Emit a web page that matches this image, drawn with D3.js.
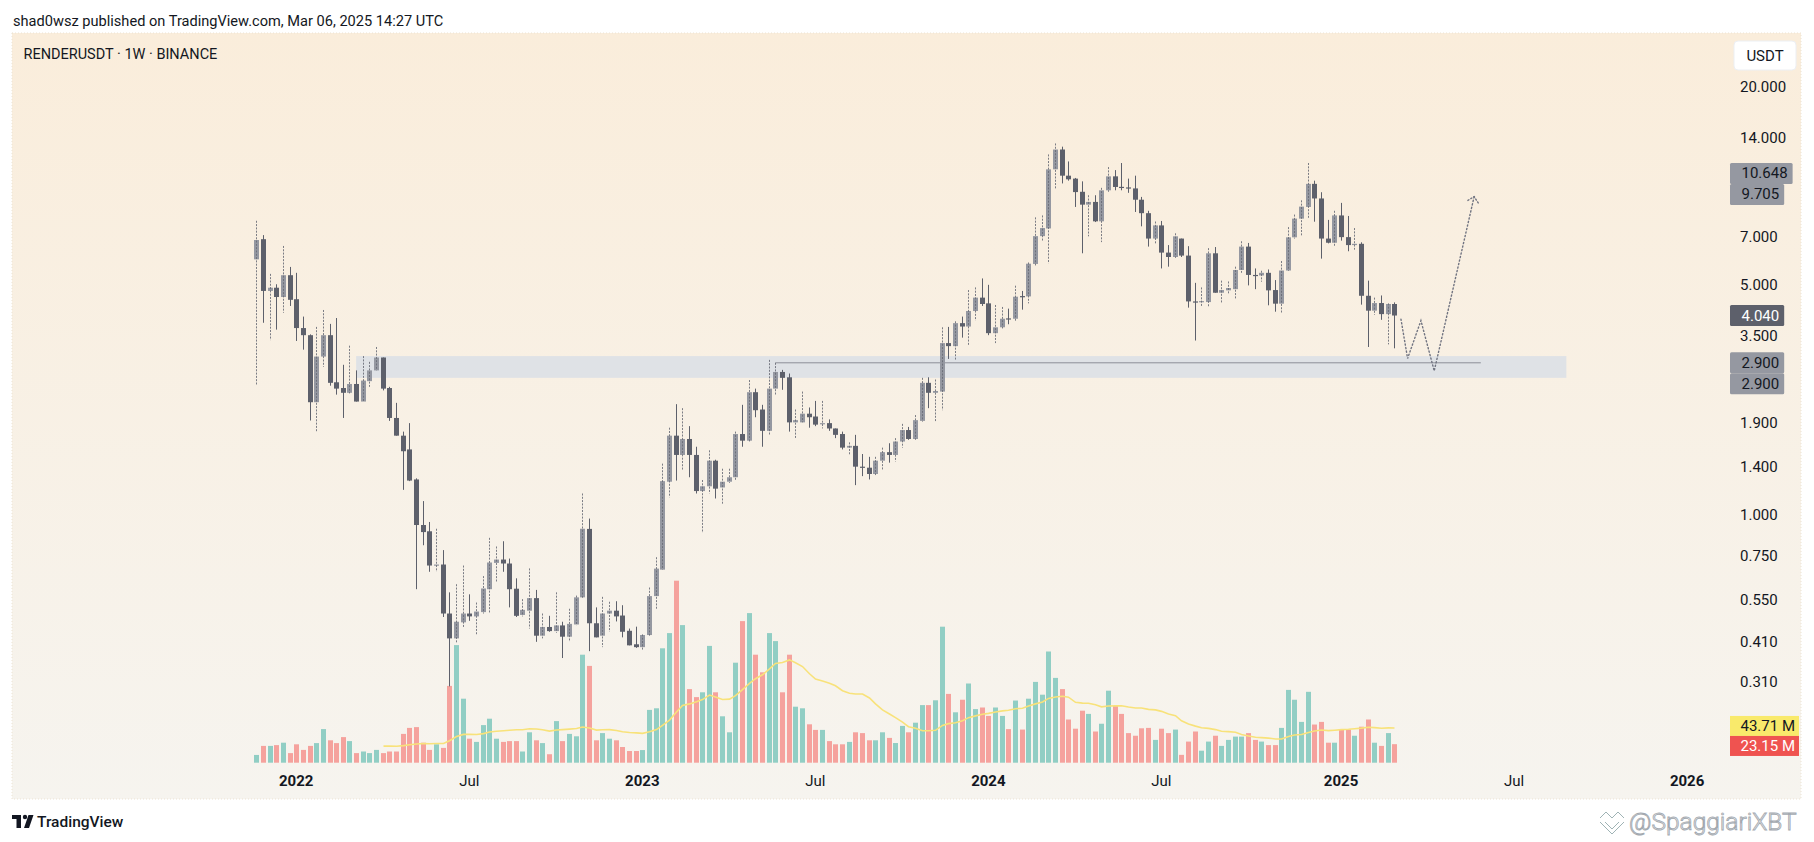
<!DOCTYPE html>
<html><head><meta charset="utf-8">
<script src="https://cdn.jsdelivr.net/npm/d3@7"></script>
<style>
html,body{margin:0;padding:0;background:#fff;}
svg{display:block;font-family:Roboto,"Liberation Sans",sans-serif;}
</style></head><body>
<svg id="c" width="1814" height="842"></svg>
<script>
// ---------------- DATA ----------------
const firstWeek = "2021-11-22";   // weekly bars, RENDERUSDT 1W
const opens = [5.99,6.90,4.80,4.91,4.60,5.36,4.53,3.70,3.52,2.20,3.03,3.52,2.53,2.43,2.35,2.50,2.21,2.55,2.75,3.01,2.43,1.97,1.74,1.58,1.28,0.93,0.89,0.70,0.705,0.50,0.42,0.47,0.50,0.49,0.505,0.593,0.713,0.73,0.71,0.595,0.495,0.51,0.557,0.428,0.455,0.442,0.46,0.425,0.463,0.56,0.905,0.467,
0.428,0.50,0.51,0.493,0.443,0.403,0.395,0.43,0.565,0.68,1.26,1.74,1.52,1.70,1.52,1.18,1.22,1.46,1.21,1.26,1.30,1.76,1.68,2.36,2.09,1.80,2.42,2.72,2.62,1.91,1.91,2.03,1.99,1.89,1.90,1.83,1.76,1.60,1.62,1.40,1.39,1.33,1.46,1.55,1.52,1.67,1.81,1.70,1.93,2.52,2.35,2.37,3.33,3.26,
3.83,3.74,4.17,4.58,4.40,3.57,3.72,3.96,3.95,4.63,4.62,5.80,7.05,7.44,11.26,12.94,10.77,10.55,9.62,8.79,8.96,7.82,9.72,10.72,9.96,9.92,9.85,9.1,8.28,6.93,7.60,6.28,6.09,6.93,6.15,4.46,4.44,4.44,6.25,4.74,4.82,4.86,5.56,6.55,5.37,5.35,5.45,4.83,4.39,5.54,6.99,7.97,8.65,10.17,9.18,6.93,6.73,8.15,7.00,6.62,6.68,4.64,4.18,4.41,4.08,4.38];
const highs = [7.85,7.10,5.41,5.03,6.58,5.68,5.45,4.01,3.54,3.73,4.20,3.81,3.97,2.86,3.27,2.75,3.04,2.92,3.24,3.01,2.45,2.19,1.79,1.90,1.29,1.10,0.95,0.906,0.78,0.58,0.614,0.70,0.572,0.54,0.65,0.85,0.80,0.83,0.735,0.64,0.553,0.686,0.59,0.50,0.492,0.58,0.472,0.517,0.567,1.16,0.973,0.522,
0.562,0.543,0.545,0.53,0.45,0.456,0.432,0.60,0.742,1.43,1.84,2.17,2.11,1.86,1.61,1.275,1.57,1.47,1.38,1.38,1.79,2.16,2.57,2.42,2.16,2.96,2.90,2.76,2.69,2.09,2.37,2.12,2.22,2.22,1.95,1.83,1.79,1.66,1.75,1.53,1.50,1.50,1.60,1.65,1.71,1.89,1.85,2.01,2.61,2.62,2.58,3.72,3.73,3.88,
4.01,4.83,4.92,5.24,5.01,4.35,4.29,4.24,4.98,4.80,5.86,8.04,8.15,12.5,13.5,13.2,11.9,10.6,10.35,9.39,9.39,9.89,11.44,11.2,11.77,10.55,10.77,9.28,8.42,7.81,7.84,6.62,7.19,6.93,6.57,5.08,4.92,6.48,6.53,5.16,5.13,5.69,6.80,6.72,5.62,5.53,5.58,5.18,5.92,7.51,8.20,9.06,11.77,10.4,9.59,7.90,8.42,8.90,8.12,7.46,6.75,5.16,4.58,4.65,4.40,4.43];
const lows = [2.47,3.84,3.40,3.66,4.12,4.32,3.38,3.18,1.935,1.79,2.82,2.47,2.32,1.97,2.34,2.21,2.20,2.45,2.75,2.39,1.93,1.74,1.19,1.265,0.593,0.807,0.67,0.67,0.488,0.30,0.405,0.453,0.475,0.43,0.50,0.50,0.625,0.67,0.522,0.488,0.49,0.45,0.41,0.42,0.44,0.437,0.366,0.41,0.46,0.557,0.384,0.423,
0.395,0.44,0.473,0.423,0.40,0.393,0.388,0.428,0.517,0.68,1.13,1.27,1.37,1.30,1.16,0.88,1.16,1.12,1.08,1.25,1.275,1.61,1.67,1.98,1.61,1.75,2.32,2.40,1.79,1.70,1.91,1.84,1.86,1.83,1.80,1.71,1.58,1.52,1.23,1.31,1.28,1.32,1.37,1.44,1.45,1.60,1.69,1.69,1.92,2.11,1.91,2.08,2.98,2.95,
3.46,3.26,3.90,4.32,3.52,3.33,3.69,3.80,3.88,4.21,4.40,5.74,6.80,5.82,9.82,10.2,10.4,8.65,6.25,7.04,7.78,6.76,9.62,9.72,9.72,9.55,8.35,7.55,6.55,6.65,5.62,5.69,6.05,6.09,4.27,3.39,4.29,4.29,4.74,4.40,4.72,4.54,5.45,4.99,4.86,5.12,4.34,4.15,4.10,5.53,6.93,7.04,7.97,7.80,6.02,6.70,6.55,6.83,6.34,6.41,4.36,3.24,4.06,3.92,3.30,3.21];
const closes = [6.86,4.80,4.91,4.60,5.36,4.51,3.70,3.52,2.20,3.03,3.52,2.52,2.42,2.35,2.50,2.21,2.56,2.75,3.01,2.42,1.97,1.74,1.56,1.27,0.93,0.885,0.70,0.705,0.50,0.42,0.472,0.50,0.49,0.507,0.596,0.715,0.73,0.71,0.593,0.492,0.513,0.557,0.428,0.455,0.442,0.46,0.425,0.465,0.56,0.906,0.467,0.423,
0.50,0.51,0.49,0.44,0.40,0.395,0.43,0.565,0.685,1.265,1.74,1.52,1.70,1.52,1.18,1.22,1.46,1.20,1.26,1.30,1.76,1.68,2.36,2.08,1.80,2.42,2.72,2.61,1.91,1.94,2.03,1.98,1.88,1.90,1.83,1.75,1.60,1.62,1.40,1.39,1.33,1.46,1.55,1.52,1.67,1.81,1.70,1.94,2.52,2.35,2.38,3.33,3.26,3.83,
3.74,4.17,4.58,4.38,3.57,3.72,3.95,3.95,4.61,4.61,5.81,7.05,7.46,11.26,12.94,10.77,10.5,9.6,8.79,8.96,7.82,9.72,10.72,9.95,9.94,9.88,9.1,8.28,6.93,7.60,6.28,6.09,7.04,6.15,4.46,4.44,4.47,6.25,4.74,4.83,4.90,5.56,6.55,5.37,5.35,5.45,4.82,4.39,5.54,6.99,7.97,8.67,10.17,9.18,6.93,6.73,8.15,7.00,6.62,6.68,4.64,4.18,4.41,4.08,4.38,4.04];
// volume in millions
const volumes = [9.7,21,21,22,25,12,23,16,21,24.5,42,28,24.5,32,27,12,14,12,16,12,14,14,36,43.5,44.5,25,16,23,18.5,96,147,80,30,26,47,55,30,26,27,27,14,38,28,24.5,10.6,52,27,36,33,135,121,28,
37,30,28,19.6,14.6,14.6,15.8,66,68,143,162,227.5,172,92,82,88,146,88,58,38,125,177,187,135,113,162,152,88,135,70,68,48,41,41,27,23,23,26,38,37,28,28,38,31,24.6,46,38,50,72,72,78,170,86,63,
78.7,99,67,69,58.5,69,58.5,42,77.7,41.4,80,101,85,139,106,92,54,42.5,65,61,39,48.7,90,71,61,37,33.7,43,43.5,28.5,42.5,37,41.4,9.8,26.4,39,15,26.4,33.7,21,28.5,32.6,32.6,37,28.5,26.4,22,22,43.5,91,78.7,51,88.6,47.7,51,25,25,41.4,41.4,33.7,45,54,25,21,37,23.15];
const volMaLength = 20;

const priceTicks = [20,14,7,5,3.5,1.9,1.4,1.0,0.75,0.55,0.41,0.31];
const timeTickDates = ["2022-01-03","2022-07-04","2023-01-02","2023-07-03","2024-01-01","2024-07-01","2025-01-06","2025-07-07","2026-01-05"];
const timeTickLabels = ["2022","Jul","2023","Jul","2024","Jul","2025","Jul","2026"];
const timeTickBold = [true,false,true,false,true,false,true,false,true];

// support zone and level
const zoneDates = ["2022-03-07","2025-08-31"];
const zonePrices = [3.04, 2.61];
const levelDates = ["2023-05-22","2025-06-02"];
const levelPrice = 2.9;
// projected path (dotted)
const pathDates = ["2025-03-10","2025-03-17","2025-03-31","2025-04-14","2025-05-26"];
const pathPrices = [3.94, 2.99, 3.90, 2.74, 9.30];

// price axis tags
const priceTagValues = [10.648, 9.705, 4.040, 2.900, 2.900];
const priceTagDark = [false, false, true, false, false];
const volTagValues = [43.71, 23.15];

// ---------------- CHART ----------------
const svg = d3.select("#c");
const W = 1814, H = 842;
const panel = {x0: 12, x1: 1801, y0: 33, y1: 799};
const axisX = 1740;

const defs = svg.append("defs");
const grad = defs.append("linearGradient").attr("id","bg").attr("x1",0).attr("y1",0).attr("x2",0).attr("y2",1);
grad.append("stop").attr("offset","0%").attr("stop-color","#faeddb");
grad.append("stop").attr("offset","100%").attr("stop-color","#f6f4ef");

svg.append("rect").attr("width",W).attr("height",H).attr("fill","#ffffff");
svg.append("rect").attr("x",panel.x0).attr("y",panel.y0).attr("width",panel.x1-panel.x0).attr("height",panel.y1-panel.y0)
  .attr("fill","url(#bg)").attr("stroke","#ece3d3").attr("stroke-dasharray","1,2").attr("stroke-width",1);

const t0 = new Date(firstWeek);
const data = opens.map((o,i)=>({date: d3.utcDay.offset(t0, 7*i), o, h: highs[i], l: lows[i], c: closes[i], v: volumes[i]}));

const x = d3.scaleUtc().domain([data[0].date, data[data.length-1].date]).range([256.3, 1394.3]);
const y = d3.scaleLog().domain([0.31, 20]).range([681.7, 87.4]);
const yv = d3.scaleLinear().domain([0, 250]).range([762.7, 562.7]);

const UP = "#9598a1", DOWN = "#5d606b";
const VUP = "#91cec4", VDOWN = "#f5a29d";

// zone
svg.append("rect")
  .attr("x", x(new Date(zoneDates[0]))).attr("width", x(new Date(zoneDates[1])) - x(new Date(zoneDates[0])))
  .attr("y", y(zonePrices[0])).attr("height", y(zonePrices[1]) - y(zonePrices[0]))
  .attr("fill", "#dfe2e6");

// volume bars
const gVol = svg.append("g");
gVol.selectAll("rect").data(data).join("rect")
  .attr("x", d => Math.round(x(d.date)) - 2)
  .attr("width", 5)
  .attr("y", d => yv(d.v))
  .attr("height", d => yv(0) - yv(d.v))
  .attr("fill", d => d.c >= d.o ? VUP : VDOWN);

// volume MA
const ma = [];
for (let i = volMaLength - 1; i < data.length; i++) {
  ma.push({date: data[i].date, v: d3.mean(volumes.slice(i - volMaLength + 1, i + 1))});
}
svg.append("path").datum(ma)
  .attr("d", d3.line().x(d => Math.round(x(d.date)) + 0.5).y(d => yv(d.v)))
  .attr("fill","none").attr("stroke","#f8e27a").attr("stroke-width",1.6);

// level line
svg.append("line")
  .attr("x1", x(new Date(levelDates[0]))).attr("x2", x(new Date(levelDates[1])))
  .attr("y1", y(levelPrice)).attr("y2", y(levelPrice))
  .attr("stroke","#8c8f97").attr("stroke-width",1);

// candles
const gC = svg.append("g");
const cg = gC.selectAll("g").data(data).join("g");
cg.each(function(d){
  const g = d3.select(this);
  const cx = Math.round(x(d.date)) + 0.5;
  const isUp = d.c >= d.o;
  const top = y(Math.max(d.o, d.c)), bot = y(Math.min(d.o, d.c));
  if (!isUp) {
    g.append("line").attr("x1",cx).attr("x2",cx).attr("y1",y(d.h)).attr("y2",y(d.l))
      .attr("stroke",DOWN).attr("stroke-width",1);
  }
  g.append("rect").attr("x", cx - 2.5).attr("width",5)
    .attr("y", top).attr("height", Math.max(1.2, bot - top))
    .attr("fill", isUp ? UP : DOWN);
  if (isUp) {
    g.append("line").attr("x1",cx).attr("x2",cx).attr("y1",y(d.h)).attr("y2",y(d.l))
      .attr("stroke","#666974").attr("stroke-width",1).attr("stroke-dasharray","2,1.3").attr("opacity",0.85);
  }
});

// projected dotted path
const pts = pathDates.map((dt,i)=>[x(new Date(dt)), y(pathPrices[i])]);
svg.append("path").attr("d", d3.line()(pts))
  .attr("fill","none").attr("stroke","#707380").attr("stroke-width",1.4)
  .attr("stroke-dasharray","1.2,2.4").attr("stroke-linecap","round");
{
  const a = pts[pts.length-2], b = pts[pts.length-1];
  const ang = Math.atan2(b[1]-a[1], b[0]-a[0]);
  const L = 7.5, sp = 0.8;
  const w1 = [b[0] - L*Math.cos(ang - sp), b[1] - L*Math.sin(ang - sp)];
  const w2 = [b[0] - L*Math.cos(ang + sp), b[1] - L*Math.sin(ang + sp)];
  svg.append("path").attr("d", d3.line()([w1, b, w2]))
    .attr("fill","none").attr("stroke","#707380").attr("stroke-width",1.4)
    .attr("stroke-dasharray","1.2,2.2").attr("stroke-linecap","round");
}

// price axis labels
svg.append("g").selectAll("text").data(priceTicks).join("text")
  .attr("x", axisX).attr("y", d => y(d)).attr("dominant-baseline","central")
  .attr("font-size",15).attr("fill","#131722")
  .text(d => d.toFixed(3));

// tags helper: resolve overlaps (equal values stack downward, different values split)
function stackTags(vals, scale, hgt) {
  const items = vals.map((v,i)=>({v, i, yc: scale(v)}));
  const sorted = items.slice().sort((a,b)=>a.yc-b.yc);
  for (let k=1;k<sorted.length;k++) {
    const p = sorted[k-1], q = sorted[k];
    const overlap = p.yc + hgt - q.yc;
    if (overlap > 0) {
      if (Math.abs(p.v - q.v) < 1e-9 || k > 1 && sorted[k-2].yc + hgt > p.yc - overlap/2) q.yc += overlap;
      else { p.yc -= overlap/2; q.yc += overlap/2; }
    }
  }
  return items;
}
const tagH = 21;
const ptags = stackTags(priceTagValues, y, tagH);
const gT = svg.append("g");
ptags.forEach(t => {
  const dark = priceTagDark[t.i];
  const g = gT.append("g");
  const txt = g.append("text").attr("x", axisX + 1.5).attr("y", t.yc).attr("dominant-baseline","central")
    .attr("font-size",15).attr("fill", dark ? "#ffffff" : "#131722").text(t.v.toFixed(3));
  const w = txt.node().getComputedTextLength();
  g.insert("rect","text").attr("x",1730).attr("y",t.yc - tagH/2).attr("width", axisX + 1.5 + w + 5 - 1730).attr("height",tagH)
    .attr("rx",1.5).attr("fill", dark ? "#5d606b" : "#9598a1");
});
const vtags = stackTags(volTagValues, yv, 20);
vtags.forEach((t,k) => {
  const g = gT.append("g");
  const txt = g.append("text").attr("x", axisX + 0.5).attr("y", t.yc).attr("dominant-baseline","central")
    .attr("font-size",15).attr("fill", k===0 ? "#131722" : "#ffffff").text(t.v.toFixed(2) + " M");
  const w = txt.node().getComputedTextLength();
  g.insert("rect","text").attr("x",1730).attr("y",t.yc - 10).attr("width", axisX + 0.5 + w + 4 - 1730).attr("height",20)
    .attr("fill", k===0 ? "#f9ea6b" : "#ef5350");
});

// USDT box
svg.append("rect").attr("x",1734).attr("y",41).attr("width",62).attr("height",29).attr("rx",4)
  .attr("fill","#ffffff").attr("stroke","#eceff3");
svg.append("text").attr("x",1765).attr("y",56).attr("text-anchor","middle").attr("dominant-baseline","central")
  .attr("font-size",15).attr("fill","#131722").text("USDT");

// time axis labels
svg.append("g").selectAll("text").data(timeTickDates).join("text")
  .attr("x", d => x(new Date(d))).attr("y", 781).attr("text-anchor","middle").attr("dominant-baseline","central")
  .attr("font-size",15).attr("fill","#131722")
  .attr("font-weight",(d,i)=> timeTickBold[i] ? 700 : 400)
  .text((d,i)=>timeTickLabels[i]);

// header + title
svg.append("text").attr("x",13).attr("y",21).attr("dominant-baseline","central")
  .attr("font-size",14.6).attr("fill","#131722")
  .text("shad0wsz published on TradingView.com, Mar 06, 2025 14:27 UTC");
svg.append("text").attr("x",23.5).attr("y",54).attr("dominant-baseline","central")
  .attr("font-size",14.5).attr("fill","#131722")
  .text("RENDERUSDT · 1W · BINANCE");

// TradingView footer logo
const lg = svg.append("g").attr("fill","#131722");
lg.append("rect").attr("x",12).attr("y",815).attr("width",9).attr("height",4);
lg.append("rect").attr("x",16.5).attr("y",815).attr("width",4.5).attr("height",13);
lg.append("circle").attr("cx",25).attr("cy",817).attr("r",2.2);
lg.append("path").attr("d","M28.5,815 L33.5,815 L29,828 L24,828 Z");
svg.append("text").attr("x",37).attr("y",822).attr("dominant-baseline","central")
  .attr("font-size",15.5).attr("font-weight",500).attr("fill","#131722").text("TradingView");

// watermark
const wm = svg.append("g").attr("fill","none").attr("stroke","#9fb3b5").attr("stroke-width",1);
wm.append("path").attr("d","M1600,818 L1606,812 L1612,818 L1618,812 L1624,818");
wm.append("path").attr("d","M1600,822 L1612,834 L1624,822");
wm.append("path").attr("d","M1605,822 L1612,829 L1619,822");
svg.append("text").attr("x",1629).attr("y",821).attr("dominant-baseline","central")
  .attr("font-size",24.5).attr("font-weight",300).attr("fill","#ffffff").attr("stroke","#a3a9b0").attr("stroke-width",0.9)
  .text("@SpaggiariXBT");
</script>
</body></html>
